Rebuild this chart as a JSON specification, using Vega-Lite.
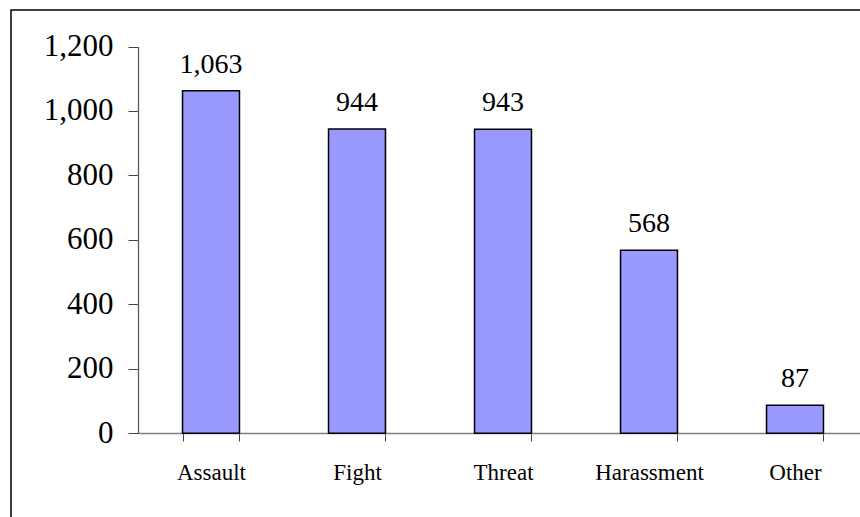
{
  "$schema": "https://vega.github.io/schema/vega-lite/v6.json",
  "autosize": {"type": "none"},
  "padding": {"left": 11, "top": 10, "right": 0, "bottom": 0},
  "width": 870,
  "height": 520,
  "background": "white",
  "config": {
    "view": {"stroke": "black", "strokeWidth": 1.5},
    "font": "Liberation Serif"
  },
  "data": {
    "values": [
      {"category": "Assault", "count": 1063},
      {"category": "Fight", "count": 944},
      {"category": "Threat", "count": 943},
      {"category": "Harassment", "count": 568},
      {"category": "Other", "count": 87}
    ]
  },
  "encoding": {
    "x": {
      "field": "category",
      "type": "nominal",
      "sort": null,
      "scale": {"range": [127, 857], "paddingInner": 0.61, "paddingOuter": 0.305},
      "axis": {
        "title": null,
        "orient": "bottom",
        "offset": -97,
        "labelAngle": 0,
        "labelFont": "Liberation Serif",
        "labelFontSize": 23,
        "labelColor": "black",
        "labelPadding": 20,
        "tickBand": "extent",
        "tickSize": 8,
        "tickColor": "#444",
        "domainColor": "#808080",
        "domainWidth": 1.5
      }
    },
    "y": {
      "field": "count",
      "type": "quantitative",
      "scale": {"domain": [0, 1200], "range": [423.3, 36.5], "nice": false},
      "axis": {
        "title": null,
        "orient": "left",
        "offset": -127,
        "values": [0, 200, 400, 600, 800, 1000, 1200],
        "format": ",.0f",
        "grid": false,
        "labelFont": "Liberation Serif",
        "labelFontSize": 31,
        "labelColor": "black",
        "labelPadding": 15,
        "tickSize": 10,
        "tickColor": "#444",
        "domainColor": "#555",
        "domainWidth": 1.2
      }
    }
  },
  "layer": [
    {
      "mark": {"type": "bar", "color": "#9999FF", "stroke": "black", "strokeWidth": 1.5}
    },
    {
      "mark": {"type": "text", "baseline": "alphabetic", "dy": -18, "font": "Liberation Serif", "fontSize": 28, "color": "black"},
      "encoding": {"text": {"field": "count", "type": "quantitative", "format": ",.0f"}}
    }
  ]
}
